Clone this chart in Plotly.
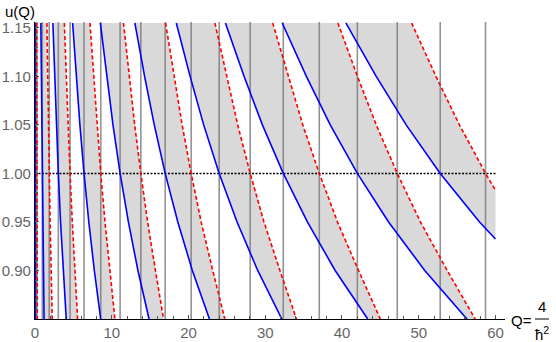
import numpy as np
import plotly.graph_objects as go

U_GRID = [1.155, 1.10, 1.05, 1.00, 0.95, 0.90, 0.85]

# blue curves: Q at each u of U_GRID
BLUE_Q = [
    [0.03, 0.034, 0.037, 0.04, 0.044, 0.048, 0.054],
    [0.76, 0.82, 0.88, 0.95, 1.02, 1.10, 1.18],
    [2.33, 2.56, 2.78, 3.04, 3.33, 3.68, 4.07],
    [4.90, 5.38, 5.85, 6.39, 7.01, 7.73, 8.56],
    [8.51, 9.34, 10.16, 11.09, 12.17, 13.41, 14.86],
    [13.01, 14.28, 15.54, 16.96, 18.61, 20.50, 22.73],
    [18.41, 20.21, 21.98, 24.0, 26.33, 29.02, 32.16],
    [24.81, 27.24, 29.63, 32.35, 35.49, 39.11, 43.35],
    [32.21, 35.36, 38.47, 42.0, 46.07, 50.78, 56.28],
    [40.50, 44.46, 48.36, 52.8, 57.92, 63.84, 70.75],
]

# red dashed curves
RED_Q = [
    [0.21, 0.22, 0.24, 0.25, 0.27, 0.28, 0.30],
    [1.55, 1.65, 1.74, 1.85, 1.97, 2.11, 2.25],
    [3.82, 4.07, 4.30, 4.57, 4.86, 5.20, 5.55],
    [7.16, 7.63, 8.07, 8.57, 9.12, 9.75, 10.41],
    [11.53, 12.27, 12.99, 13.79, 14.67, 15.69, 16.75],
    [17.01, 18.11, 19.17, 20.35, 21.65, 23.16, 24.73],
    [23.44, 24.96, 26.41, 28.04, 29.83, 31.91, 34.07],
    [30.97, 32.97, 34.89, 37.04, 39.41, 42.15, 45.00],
    [39.46, 42.01, 44.46, 47.2, 50.22, 53.71, 57.35],
    [49.07, 52.24, 55.30, 58.7, 62.46, 66.80, 71.32],
]

Q_MAX = 60
X_RANGE = [0, 61.24]
Y_RANGE = [0.85, 1.156]
U_LEVEL = 1.0

FONT = "Liberation Sans, Arial, sans-serif"


def clip(qs, us, qmax=Q_MAX):
    # cut a curve where it leaves the plotted Q range
    out_q, out_u = [], []
    for i, (q, u) in enumerate(zip(qs, us)):
        if q <= qmax:
            out_q.append(q)
            out_u.append(u)
        else:
            if i > 0:
                uq = np.interp(qmax, [qs[i - 1], q], [us[i - 1], u])
                out_q.append(qmax)
                out_u.append(float(uq))
            break
    return out_q, out_u


def join(curves):
    xs, ys = [], []
    for q in curves:
        cq, cu = clip(q, U_GRID)
        xs += cq + [None]
        ys += cu + [None]
    return xs, ys


fig = go.Figure()

# shaded bands between each blue curve and the red one after it
fx, fy = [], []
for bq, rq in zip(BLUE_Q, RED_Q):
    b_q, b_u = clip(bq, U_GRID)
    r_q, r_u = clip(rq, U_GRID)
    fx += b_q + r_q[::-1] + [None]
    fy += b_u + r_u[::-1] + [None]
fig.add_trace(go.Scatter(x=fx, y=fy, mode="lines", fill="toself",
                         fillcolor="#d9d9d9", line=dict(width=0),
                         hoverinfo="skip"))

# vertical lines where the curves cross u = 1
idx = U_GRID.index(U_LEVEL)
crossings = sorted([q[idx] for q in BLUE_Q] + [q[idx] for q in RED_Q])
vx, vy = [], []
for c in crossings:
    vx += [c, c, None]
    vy += [Y_RANGE[0], Y_RANGE[1], None]
fig.add_trace(go.Scatter(x=vx, y=vy, mode="lines",
                         line=dict(color="rgba(120,120,120,0.8)", width=1.6),
                         hoverinfo="skip"))

# horizontal dotted line at u = 1
fig.add_trace(go.Scatter(x=[0, Q_MAX], y=[U_LEVEL, U_LEVEL], mode="lines",
                         line=dict(color="black", width=1.5, dash="2px,1.5px")))

bx, by = join(BLUE_Q)
fig.add_trace(go.Scatter(x=bx, y=by, mode="lines",
                         line=dict(color="#0000ff", width=1.6)))
rx, ry = join(RED_Q)
fig.add_trace(go.Scatter(x=rx, y=ry, mode="lines",
                         line=dict(color="#ff0000", width=1.6, dash="4px,2.5px")))

axis_common = dict(
    showgrid=False, zeroline=False, showline=True, linecolor="black",
    linewidth=1.3, ticks="inside", tickcolor="#555", ticklen=4, tickwidth=1,
    tickfont=dict(family=FONT, size=15, color="#666"), automargin=False,
)

fig.update_xaxes(range=X_RANGE, tickvals=[0, 10, 20, 30, 40, 50, 60],
                 minor=dict(dtick=2, ticks="inside", ticklen=2.5,
                            tickcolor="#555", tick0=0),
                 **axis_common)
fig.update_yaxes(range=Y_RANGE,
                 tickvals=[0.90, 0.95, 1.00, 1.05, 1.10, 1.15],
                 tickformat=".2f",
                 minor=dict(dtick=0.01, ticks="inside", ticklen=2.5,
                            tickcolor="#555", tick0=0.85),
                 **axis_common)

L, R, T, B = 35, 51, 22, 23
W, H = 556, 342
pw, ph = W - L - R, H - T - B


def px(x):
    return (x - L) / pw


def py(y):
    return (H - B - y) / ph


text_font = dict(family=FONT, size=15, color="black")
annotations = [
    dict(text="u(Q)", x=px(20), y=py(11)),
    dict(text="Q=", x=px(521), y=py(320)),
    dict(text="4", x=px(542), y=py(306)),
    dict(text="ħ<sup>2</sup>", x=px(542), y=py(333)),
]
for a in annotations:
    a.update(xref="paper", yref="paper", showarrow=False,
             xanchor="center", yanchor="middle", font=text_font)

fig.update_layout(
    width=W, height=H,
    margin=dict(l=L, r=R, t=T, b=B, autoexpand=False),
    paper_bgcolor="white", plot_bgcolor="white",
    showlegend=False,
    annotations=annotations,
    shapes=[dict(type="line", xref="paper", yref="paper",
                 x0=px(535), x1=px(549), y0=py(319), y1=py(319),
                 line=dict(color="black", width=1))],
)

# the page body has a default 8px margin; drop it so the figure fills the window
fig.write_html("out.html",
               config={"displayModeBar": False},
               post_script="document.body.style.margin='0';"
                           "document.body.style.overflow='hidden';")
